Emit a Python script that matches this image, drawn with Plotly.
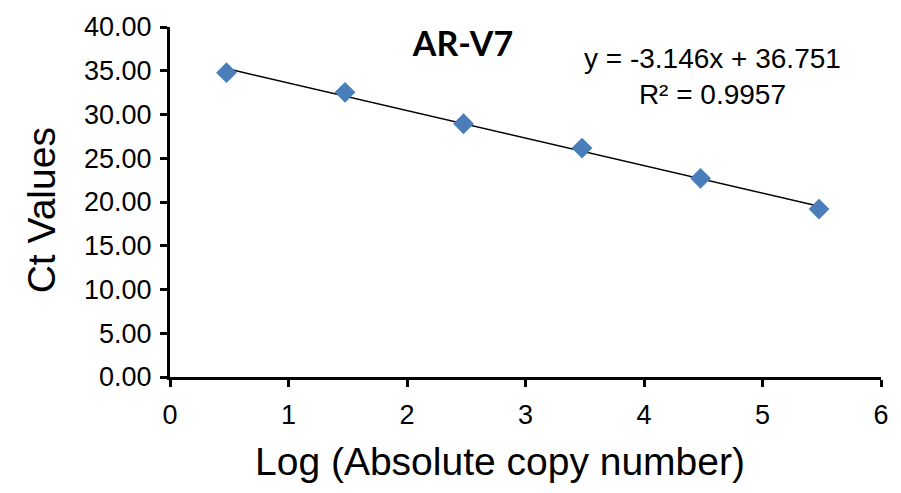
import numpy as np
import plotly.graph_objects as go

# Data
log_copy = [0.477, 1.477, 2.477, 3.477, 4.477, 5.477]
ct_values = [34.78, 32.53, 28.94, 26.16, 22.71, 19.19]
slope = -3.146
intercept = 36.751
r_squared = 0.9957
title_text = "AR-V7"
x_title = "Log (Absolute copy number)"
y_title = "Ct Values"

trend_x = [min(log_copy), max(log_copy)]
trend_y = [slope * v + intercept for v in trend_x]

fig = go.Figure()
fig.add_trace(go.Scatter(
    x=trend_x, y=trend_y, mode="lines",
    line=dict(color="black", width=1.5), showlegend=False, hoverinfo="skip"))
fig.add_trace(go.Scatter(
    x=log_copy, y=ct_values, mode="markers",
    marker=dict(symbol="diamond", size=16, color="#4A7EBB",
                line=dict(width=0)),
    showlegend=False))

font_main = "Liberation Sans, Arial, sans-serif"

fig.update_layout(
    width=901, height=493,
    margin=dict(l=170, r=12, t=21, b=116),
    paper_bgcolor="white", plot_bgcolor="white",
    font=dict(family=font_main, color="black"),
    title=dict(text=f"<b>{title_text}</b>", x=463/901, y=1-44/493,
               xref="container", yref="container",
               xanchor="center", yanchor="middle",
               font=dict(family="Lato, Carlito, sans-serif", size=34, color="black")),
    annotations=[
        dict(text=f"y = {slope}x + {intercept}<br>R² = {r_squared}",
             x=4.58, y=34.3, xref="x", yref="y", showarrow=False,
             xanchor="center", yanchor="middle", align="center",
             font=dict(family=font_main, size=28, color="black")),
        dict(text=x_title, x=(504-170)/719, y=(377-463)/356,
             xref="paper", yref="paper", showarrow=False,
             xanchor="center", yanchor="middle",
             font=dict(family=font_main, size=39, color="black")),
        dict(text=y_title, x=(40-170)/719, y=(377-207)/356, textangle=-90,
             xref="paper", yref="paper", showarrow=False,
             xanchor="center", yanchor="middle",
             font=dict(family=font_main, size=39, color="black")),
    ],
)
fig.update_xaxes(
    range=[0, 6], dtick=1, tick0=0, showgrid=False, zeroline=False,
    showline=True, linecolor="black", linewidth=3,
    ticks="outside", ticklen=7, tickwidth=3, tickcolor="black",
    ticklabelstandoff=5,
    tickfont=dict(size=27, family=font_main))
fig.update_yaxes(
    range=[0, 40], dtick=5, tick0=0, tickformat=".2f", showgrid=False, zeroline=False,
    showline=True, linecolor="black", linewidth=3,
    ticks="outside", ticklen=7, tickwidth=3, tickcolor="black",
    ticklabelstandoff=3,
    tickfont=dict(size=27, family=font_main))

fig.write_html("out.html")
